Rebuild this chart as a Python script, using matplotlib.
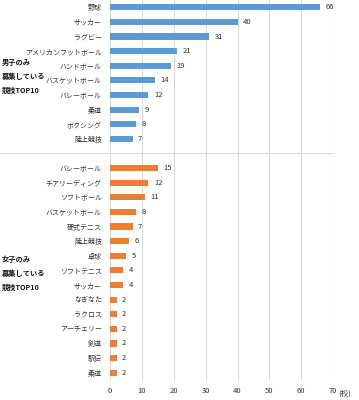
import matplotlib.pyplot as plt
from matplotlib.lines import Line2D
from matplotlib.transforms import blended_transform_factory

plt.rcParams['font.family'] = ['Noto Sans CJK JP', 'DejaVu Sans']

# 男子のみ募集している競技 TOP10
boys_sports = ['野球', 'サッカー', 'ラグビー', 'アメリカンフットボール', 'ハンドボール',
               'バスケットボール', 'バレーボール', '柔道', 'ボクシング', '陸上競技']
boys_counts = [66, 40, 31, 21, 19, 14, 12, 9, 8, 7]

# 女子のみ募集している競技 TOP10
girls_sports = ['バレーボール', 'チアリーディング', 'ソフトボール', 'バスケットボール', '硬式テニス',
                '陸上競技', '卓球', 'ソフトテニス', 'サッカー', 'なぎなた', 'ラクロス',
                'アーチェリー', '剣道', '駅伝', '柔道']
girls_counts = [15, 12, 11, 8, 7, 6, 5, 4, 4, 2, 2, 2, 2, 2, 2]

boys_title = ['男子のみ', '募集している', '競技TOP10']
girls_title = ['女子のみ', '募集している', '競技TOP10']
x_ticks = [0, 10, 20, 30, 40, 50, 60, 70]

blue = '#5B9BD5'
orange = '#ED7D31'
grid_c = '#D9D9D9'
txt_c = '#333333'
fs = 5.0

fig = plt.figure(figsize=(3.59, 4.0), dpi=100)
ax = fig.add_axes([0.307, 0.05, 0.621, 0.95])

# one empty slot between the two groups
boys_y = list(range(len(boys_counts)))
girls_y = [len(boys_counts) + 1 + i for i in range(len(girls_counts))]

ax.barh(boys_y, boys_counts, height=0.42, color=blue, zorder=3)
ax.barh(girls_y, girls_counts, height=0.42, color=orange, zorder=3)

for y, v in zip(boys_y + girls_y, boys_counts + girls_counts):
    ax.annotate(str(v), (v, y), xytext=(4, 0), textcoords='offset points',
                va='center', ha='left', fontsize=5.5, color=txt_c)

ax.set_ylim(girls_y[-1] + 0.5, -0.5)
ax.set_xlim(0, 70)
ax.set_yticks(boys_y + girls_y)
ax.set_yticklabels(boys_sports + girls_sports, fontsize=fs, color=txt_c)
ax.set_xticks(x_ticks)
ax.set_xticklabels([str(t) for t in x_ticks], fontsize=5.5, color=txt_c)
ax.tick_params(length=0, pad=5)
ax.tick_params(axis='y', pad=6)
ax.grid(axis='x', color=grid_c, linewidth=0.8, zorder=0)
for s in ax.spines.values():
    s.set_visible(False)

ax.text(1.025, -0.024, '(校)', transform=ax.transAxes, fontsize=5.5,
        color=txt_c, ha='left', va='top')

# separator between the groups
sep_y = len(boys_counts)
tr = blended_transform_factory(fig.transFigure, ax.transData)
fig.add_artist(Line2D([0, 0.928], [sep_y, sep_y], transform=tr,
                      color=grid_c, linewidth=0.8))

# group titles
for i, t in enumerate(boys_title):
    ax.text(0.006, 3.8 + i * 0.95, t, transform=tr, fontsize=5.2,
            fontweight='bold', va='center', ha='left', color='#1a1a1a')
for i, t in enumerate(girls_title):
    ax.text(0.006, 17.25 + i * 0.95, t, transform=tr, fontsize=5.2,
            fontweight='bold', va='center', ha='left', color='#1a1a1a')

fig.savefig('out.png', dpi=100)
